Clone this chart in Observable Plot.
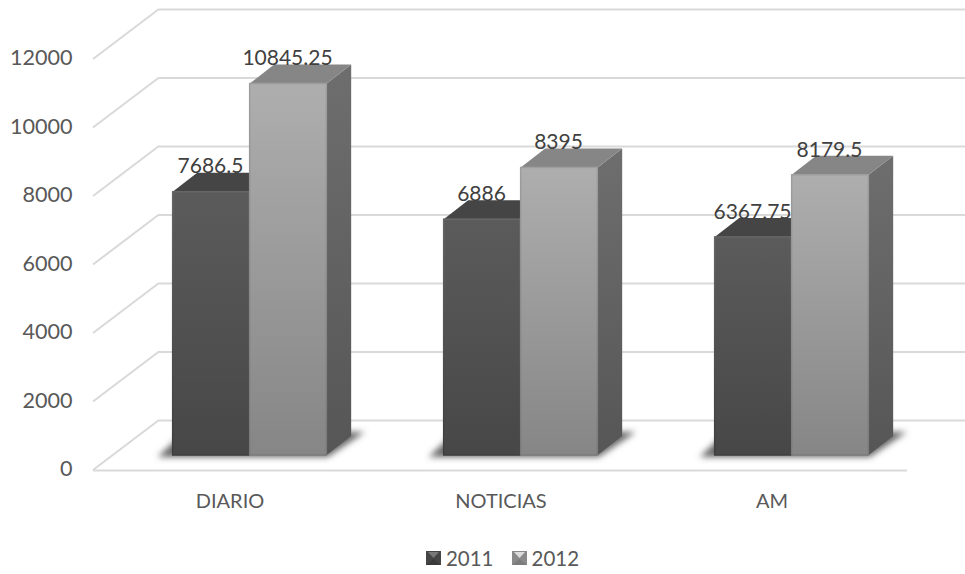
<!DOCTYPE html>
<html>
<head>
<meta charset="utf-8">
<script src="https://cdn.jsdelivr.net/npm/d3@7"></script>
<script src="https://cdn.jsdelivr.net/npm/@observablehq/plot@0.6"></script>
<style>
  html, body { margin: 0; padding: 0; background: #fff; }
  #chart { width: 965px; height: 574px; position: relative; overflow: hidden; font-family: Lato, sans-serif; }
  #chart svg.plot { display: block; }
  #legend { height: 39px; display: flex; justify-content: center; align-items: flex-start; padding-left: 40px; box-sizing: border-box;
            font: 20.5px Lato, sans-serif; color: #595959; line-height: 24px; padding-top: 11px; }
  #legend span.item { display: inline-flex; align-items: center; margin-right: 18px; }
  #legend span.item:last-child { margin-right: 0; }
  #legend svg { margin-right: 5px; }
</style>
</head>
<body>
<div id="chart"></div>
<script>
const categories = ["DIARIO", "NOTICIAS", "AM"];
const years = ["2011", "2012"];
const values2011 = [7686.5, 6886, 6367.75];
const values2012 = [10845.25, 8395, 8179.5];
const yTicks = [0, 2000, 4000, 6000, 8000, 10000, 12000];

const rows = (vals) => categories.map((category, i) => ({category, value: vals[i]}));
const series = [
  {year: years[0], rows: rows(values2011), front: "url(#front2011)", edge: "url(#edge2011)", side: "url(#side)", top: "#454545", insetLeft: 58.67, insetRight: 135.67, labelDx: -38.5},
  {year: years[1], rows: rows(values2012), front: "url(#front2012)", edge: "url(#edge2012)", side: "url(#side)", top: "#868686", insetLeft: 135.67, insetRight: 58.67, labelDx: 38.5}
];

const NS = "http://www.w3.org/2000/svg";
const el = (name, attrs) => {
  const n = document.createElementNS(NS, name);
  for (const k in attrs) n.setAttribute(k, attrs[k]);
  return n;
};
const grad = (id, from, to) => {
  const g = el("linearGradient", {id, x1: 0, y1: 0, x2: 0, y2: 1});
  g.append(el("stop", {offset: "0%", "stop-color": from}), el("stop", {offset: "100%", "stop-color": to}));
  return g;
};
const defsMark = () => {
  const defs = el("defs", {});
  defs.append(
    grad("front2011", "#5b5b5b", "#474747"),
    grad("edge2011", "#666666", "#3e3e3e"),
    grad("front2012", "#aeaeae", "#868686"),
    grad("edge2012", "#9e9e9e", "#7a7a7a"),
    grad("side", "#6e6e6e", "#565656")
  );
  const f = el("filter", {id: "soft", x: "-20%", y: "-50%", width: "140%", height: "200%"});
  f.append(el("feGaussianBlur", {stdDeviation: 3}));
  defs.append(f);
  return defs;
};

const BAR_W = 77, OFF_X = 20, OFF_Y = -15, DEPTH_X = 24.5, DEPTH_Y = -19;
const BACK_X = 66, BACK_Y = -50;
const gridColor = "#d9d9d9";

const barLeft = (s, d, x) => x(d.category) + s.insetLeft + OFF_X;

const wallDiagonals = () => Plot.ruleY(yTicks, {
  render(index, {y}, values, {marginLeft}) {
    const g = el("g", {stroke: gridColor, "stroke-width": 2, fill: "none"});
    for (const i of index) {
      const y0 = y(yTicks[i]);
      g.append(el("path", {d: `M${marginLeft},${y0}L${marginLeft + BACK_X},${y0 + BACK_Y}`}));
    }
    return g;
  }
});

const shadowMark = (rowsAll) => Plot.dot(rowsAll, {
  x: "category", y: 0,
  render(index, {x, y}) {
    const g = el("g", {fill: "#666666", filter: "url(#soft)"});
    const y0 = y(0) + OFF_Y;
    for (const i of index) {
      const d = rowsAll[i];
      const L = x(d.category) + 58.67 + OFF_X, R = L + 2 * BAR_W;
      g.append(el("path", {d: `M${L - 15},${y0 + 2}L${R + 1},${y0 + 2}L${R + 38},${y0 - 23}L${L + 12},${y0 - 23}Z`}));
    }
    return g;
  }
});

const depthFaces = (s) => Plot.dot(s.rows, {
  x: "category", y: "value",
  render(index, {x, y}) {
    const g = el("g", {});
    const y0 = y(0) + OFF_Y;
    for (const i of index) {
      const d = s.rows[i];
      const L = barLeft(s, d, x), R = L + BAR_W, T = y(d.value) + OFF_Y;
      g.append(el("path", {fill: s.side, d: `M${R},${T}L${R + DEPTH_X},${T + DEPTH_Y}L${R + DEPTH_X},${y0 + DEPTH_Y}L${R},${y0}Z`}));
      g.append(el("path", {fill: s.top, d: `M${L},${T}L${L + DEPTH_X},${T + DEPTH_Y}L${R + DEPTH_X},${T + DEPTH_Y}L${R},${T}Z`}));
    }
    return g;
  }
});

const marks = [
  defsMark,
  Plot.ruleY(yTicks, {stroke: gridColor, strokeWidth: 2, dx: BACK_X, dy: BACK_Y}),
  wallDiagonals(),
  Plot.ruleY([0], {stroke: gridColor, strokeWidth: 2}),
  shadowMark(rows(values2012)),
  Plot.axisY({ticks: yTicks, tickSize: 0, tickPadding: 21, dy: -1, label: null, fontSize: 21.6, fill: "#595959", tickFormat: d => String(d)}),
  Plot.axisX({tickSize: 0, tickPadding: 23, label: null, fontSize: 20, fill: "#595959"})
];
for (const s of series) {
  marks.push(depthFaces(s));
  marks.push(Plot.barY(s.rows, {
    x: "category", y: "value", insetLeft: s.insetLeft, insetRight: s.insetRight,
    dx: OFF_X, dy: OFF_Y, fill: s.front, stroke: s.edge, strokeWidth: 1.5
  }));
}
for (const s of series) {
  marks.push(Plot.text(s.rows, {
    x: "category", y: "value", text: d => String(d.value),
    dx: OFF_X + s.labelDx - 1, dy: OFF_Y - 25.5, fontSize: 21, fill: "#404040"
  }));
}

const plot = Plot.plot({
  width: 965, height: 535,
  marginLeft: 93, marginRight: 58, marginTop: 59, marginBottom: 65,
  style: {fontFamily: "Lato, sans-serif", background: "#fff", overflow: "visible"},
  x: {domain: categories, padding: 0},
  y: {domain: [0, 12000]},
  marks
});

const chart = document.getElementById("chart");
chart.append(plot);

const legend = document.createElement("div");
legend.id = "legend";
const swatchColors = [["#454545", "#3a3a3a", "#787878"], ["#8a8a8a", "#7c7c7c", "#dcdcdc"]];
years.forEach((yr, i) => {
  const item = document.createElement("span");
  item.className = "item";
  const sw = el("svg", {width: 15, height: 14, viewBox: "0 0 15 14"});
  const [base, low, tri] = swatchColors[i];
  sw.append(el("rect", {width: 15, height: 14, fill: base}));
  sw.append(el("path", {d: "M0,14L7.5,8L15,14Z", fill: low}));
  sw.append(el("path", {d: "M2,1L13,1L7.5,7Z", fill: tri}));
  item.append(sw, document.createTextNode(yr));
  legend.append(item);
});
chart.append(legend);
</script>
</body>
</html>
